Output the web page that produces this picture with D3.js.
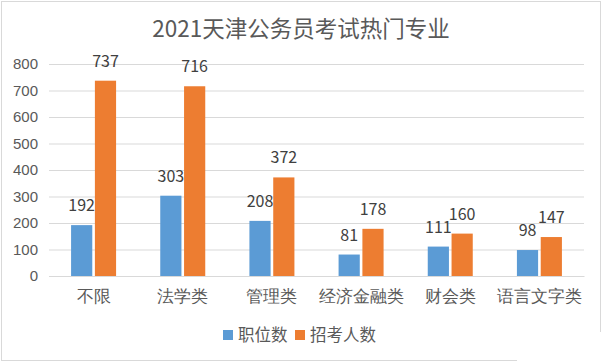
<!DOCTYPE html>
<html><head><meta charset="utf-8">
<script src="https://cdn.jsdelivr.net/npm/d3@7"></script>
<style>body{margin:0;background:#fff;}svg{display:block;font-family:"Noto Sans CJK SC","Noto Sans",sans-serif;}</style>
</head><body>
<script>
const categories = ["不限","法学类","管理类","经济金融类","财会类","语言文字类"];
const seriesNames = ["职位数","招考人数"];
const positions = [192,303,208,81,111,98];
const applicants = [737,716,372,178,160,147];
const yTicks = [0,100,200,300,400,500,600,700,800];
const colors = ["#5B9BD5","#ED7D31"];

const W=602,H=362;
const svg=d3.select("body").append("svg").attr("width",W).attr("height",H);
const bc="#d9d9d9";
svg.append("line").attr("x1",1).attr("x2",601).attr("y1",1.5).attr("y2",1.5).attr("stroke",bc);
svg.append("line").attr("x1",1.5).attr("x2",1.5).attr("y1",1).attr("y2",361).attr("stroke",bc);
svg.append("line").attr("x1",600.5).attr("x2",600.5).attr("y1",1).attr("y2",332).attr("stroke",bc);
svg.append("line").attr("x1",1).attr("x2",517).attr("y1",360.5).attr("y2",360.5).attr("stroke",bc);

const x=d3.scaleBand().domain(categories).range([49,584]);
const y=d3.scaleLinear().domain([0,800]).range([276,64]);

svg.append("text").attr("x",301).attr("y",37).attr("text-anchor","middle").attr("font-size",22.5).attr("fill","#595959").text("2021天津公务员考试热门专业");

const gy=svg.append("g").attr("transform","translate(49,0)")
 .call(d3.axisLeft(y).tickValues(yTicks).tickSize(-535).tickPadding(12));
gy.select(".domain").remove();
gy.selectAll(".tick line").attr("stroke","#d9d9d9");
gy.selectAll(".tick text").attr("font-size",15).attr("fill","#595959").attr("x",-11);

const gx=svg.append("g").attr("transform","translate(0,276)")
 .call(d3.axisBottom(x).tickSize(0).tickPadding(14));
gx.select(".domain").attr("stroke","#d9d9d9");
gx.selectAll(".tick text").attr("font-size",16.5).attr("fill","#595959");

const inner=d3.scaleBand().domain([0,1]).range([0,45]).paddingInner(0.11);
const data=[positions,applicants];
data.forEach((vals,si)=>{
  const g=svg.append("g");
  g.selectAll("rect").data(vals).join("rect")
   .attr("x",(d,i)=>x(categories[i])+x.bandwidth()/2-22.5+inner(si))
   .attr("width",inner.bandwidth())
   .attr("y",d=>y(d)).attr("height",d=>y(0)-y(d)).attr("fill",colors[si]);
  g.selectAll("text").data(vals).join("text")
   .attr("x",(d,i)=>x(categories[i])+x.bandwidth()/2-22.5+inner(si)+inner.bandwidth()/2)
   .attr("y",d=>y(d)-14).attr("text-anchor","middle").attr("font-size",16).attr("fill","#404040").text(d=>d);
});

const lg=svg.append("g");
const lx=[223,295];
seriesNames.forEach((n,i)=>{
  lg.append("rect").attr("x",lx[i]).attr("y",330).attr("width",10).attr("height",10).attr("fill",colors[i]);
  lg.append("text").attr("x",lx[i]+15).attr("y",341).attr("font-size",16.5).attr("fill","#595959").text(n);
});
</script>
</body></html>
